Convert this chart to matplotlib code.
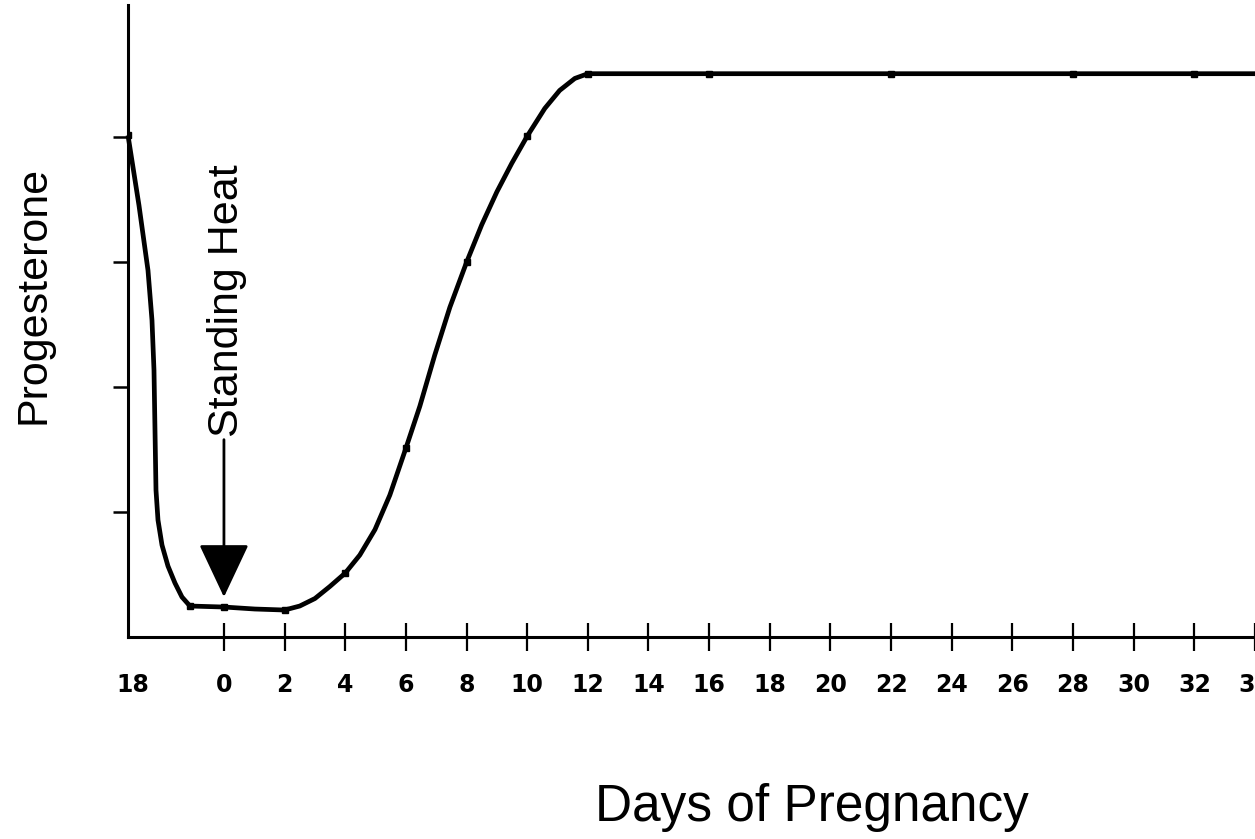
import matplotlib
matplotlib.use('Agg')
import matplotlib.pyplot as plt

plt.rcParams['font.family'] = ['Liberation Sans', 'DejaVu Sans']

# progesterone curve (day, relative level)
trace_days = [-3.164, -2.802, -2.505, -2.373, -2.307, -2.274, -2.241, -2.175, -2.043,
              -1.846, -1.615, -1.384, -1.121, 0, 1.02, 2, 2.5, 3.0, 3.49, 4.0, 4.48,
              4.98, 5.47, 6.0, 6.46, 6.95, 7.45, 8.0, 8.5, 9.0, 9.49, 10.0, 10.58,
              11.07, 11.57, 12.0, 34.0]
trace_level = [4.016, 3.456, 2.936, 2.536, 2.136, 1.656, 1.176, 0.936, 0.736,
               0.568, 0.432, 0.32, 0.248, 0.24, 0.224, 0.216, 0.248, 0.308, 0.404, 0.512, 0.656,
               0.86, 1.136, 1.512, 1.848, 2.256, 2.64, 3.0, 3.3, 3.564, 3.792, 4.01, 4.232,
               4.376, 4.472, 4.51, 4.51]

# sampled points (small dots on the line)
point_days = [-3.164, -1.121, 0, 2, 4, 6, 8, 10, 12, 16, 22, 28, 32]
point_level = [4.016, 0.248, 0.24, 0.216, 0.512, 1.512, 3.0, 4.01, 4.51, 4.51, 4.51, 4.51, 4.51]

tick_days = [-3.0] + list(range(0, 36, 2))
tick_labels = ['18'] + [str(d) for d in range(0, 36, 2)]
y_ticks = [1, 2, 3, 4]

fig = plt.figure(figsize=(12.55, 8.39), dpi=100)
ax = fig.add_axes([128 / 1255, 1 - 637 / 839, 1 - 128 / 1255, 632 / 839])

ax.plot(trace_days, trace_level, color='black', lw=3.4, solid_joinstyle='round',
        solid_capstyle='butt', clip_on=False, zorder=3)
ax.plot(point_days, point_level, ls='none', marker='s', ms=4.5, color='black', zorder=4)

ax.set_xlim(-3.164, 34.0)
ax.set_ylim(0, 5.06)

for side in ['top', 'right']:
    ax.spines[side].set_visible(False)
for side in ['left', 'bottom']:
    ax.spines[side].set_linewidth(2.2)
    ax.spines[side].set_color('black')

ax.set_xticks(tick_days)
ax.set_xticklabels(tick_labels, fontfamily='DejaVu Sans', fontweight='bold', fontsize=17)
ax.tick_params(axis='x', direction='inout', length=20, width=1.6, pad=16, colors='black')
ax.xaxis.get_major_ticks()[0].tick1line.set_visible(False)

ax.set_yticks(y_ticks)
ax.set_yticklabels([])
ax.tick_params(axis='y', direction='out', length=11, width=1.8, colors='black')

# standing heat marker
ax.annotate('', xy=(0, 0.32), xytext=(0, 1.58),
            arrowprops=dict(arrowstyle='-|>,head_length=1.7,head_width=0.8',
                            mutation_scale=20, lw=2, color='black',
                            shrinkA=0, shrinkB=0))
ax.text(0.1, 1.6, 'Standing Heat', rotation=90, ha='center', va='bottom', fontsize=31)

fig.text(34 / 1255, 1 - 295 / 839, 'Progesterone', rotation=90, ha='center', va='center',
         fontsize=31)
fig.text(812 / 1255, 1 - 808 / 839, 'Days of Pregnancy', ha='center', va='center',
         fontsize=37)

fig.savefig('out.png', dpi=100)
